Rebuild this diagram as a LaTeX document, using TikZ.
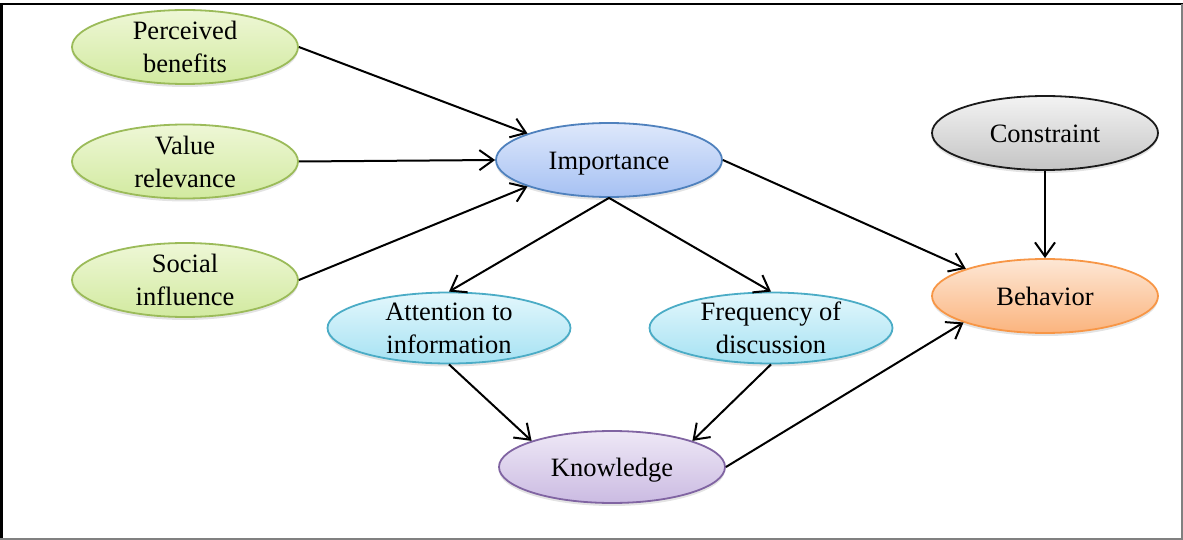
\documentclass[tikz,border=0pt]{standalone}
\usepackage{fontspec}
\setmainfont{Liberation Serif}
\usetikzlibrary{arrows.meta,shapes.geometric,shadows}

\definecolor{grTop}{HTML}{EEF7D6}\definecolor{grBot}{HTML}{D2EAA0}\definecolor{grLine}{HTML}{9BBB59}
\definecolor{blTop}{HTML}{DEE8FB}\definecolor{blBot}{HTML}{A6C1F3}\definecolor{blLine}{HTML}{4F81BD}
\definecolor{gyTop}{HTML}{F3F3F3}\definecolor{gyBot}{HTML}{C4C4C4}\definecolor{gyLine}{HTML}{1A1A1A}
\definecolor{orTop}{HTML}{FDE7D5}\definecolor{orBot}{HTML}{FBB47E}\definecolor{orLine}{HTML}{F79646}
\definecolor{cyTop}{HTML}{E3F7FC}\definecolor{cyBot}{HTML}{A6E2F3}\definecolor{cyLine}{HTML}{4BACC6}
\definecolor{puTop}{HTML}{EEE8F6}\definecolor{puBot}{HTML}{CBBBE2}\definecolor{puLine}{HTML}{8064A2}

\tikzset{
  bubble/.style={ellipse, draw, line width=1.8pt, align=center,
    inner xsep=0pt, inner ysep=-6pt, minimum width=226pt, minimum height=74pt,
    font=\fontsize{26.5}{33}\selectfont,
    drop shadow={opacity=0.22, shadow xshift=0pt, shadow yshift=-3pt}},
  oneline/.style={text height=19pt, text depth=0pt},
  green/.style={bubble, draw=grLine, top color=grTop, bottom color=grBot},
  blue/.style={bubble, oneline, draw=blLine, top color=blTop, bottom color=blBot},
  grey/.style={bubble, oneline, draw=gyLine, top color=gyTop, bottom color=gyBot},
  orange/.style={bubble, oneline, draw=orLine, top color=orTop, bottom color=orBot},
  cyan/.style={bubble, draw=cyLine, top color=cyTop, bottom color=cyBot, minimum width=243pt, minimum height=71pt},
  purple/.style={bubble, oneline, draw=puLine, top color=puTop, bottom color=puBot, minimum height=72pt},
  link/.style={line width=2pt, -{Straight Barb[length=14pt,width=20pt,line width=2pt]}}
}

\begin{document}
\begin{tikzpicture}[x=1pt,y=-1pt]
  \useasboundingbox (0,0) rectangle (1183,540);
  % frame
  \draw[line width=2.5pt] (0,4) -- (1183,4);
  \draw[line width=2.5pt] (1.5,4) -- (1.5,540);
  \draw[line width=1.5pt, gray] (1182,4) -- (1182,539);
  \draw[line width=1.5pt, gray] (0,538.8) -- (1183,538.8);

  % concepts
  \node[green]  (pb)   at (185,47)   {Perceived\\benefits};
  \node[green]  (vr)   at (185,161.5){Value\\relevance};
  \node[green]  (si)   at (185,280)  {Social\\influence};
  \node[blue]   (imp)  at (609,160)  {Importance};
  \node[grey]   (con)  at (1045,133) {Constraint};
  \node[orange] (beh)  at (1045,296) {Behavior};
  \node[cyan]   (att)  at (449,328)  {Attention to\\information};
  \node[cyan]   (freq) at (771,328)  {Frequency of\\discussion};
  \node[purple] (know) at (612,467)  {Knowledge};

  % influences
  \draw[link] (pb.east) -- (imp.162);
  \draw[link] (vr.east) -- (imp.west);
  \draw[link] (si.east) -- (imp.198);
  \draw[link] (imp.south) -- (att.north);
  \draw[link] (imp.south) -- (freq.north);
  \draw[link] (imp.east) -- (beh.161);
  \draw[link] (con.south) -- (beh.north);
  \draw[link] (att.south) -- (know.162);
  \draw[link] (freq.south) -- (know.18);
  \draw[link] (know.east) -- (beh.198);
\end{tikzpicture}
\end{document}
